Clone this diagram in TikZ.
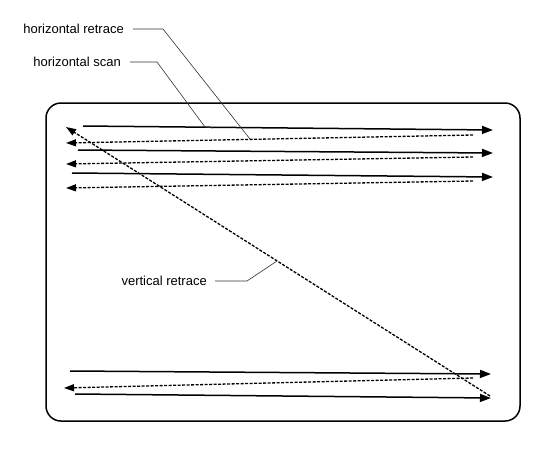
\documentclass[tikz,border=0pt]{standalone}
\usepackage{fontspec}
\setmainfont{Liberation Sans}
\usetikzlibrary{arrows.meta}
\begin{document}
\begin{tikzpicture}[x=1pt,y=-1pt,
  scanline/.style={line width=1.5pt,-{Triangle[length=11pt,width=8pt]}},
  retrace/.style={line width=1.3pt,dash pattern=on 3pt off 1.5pt,-{Triangle[length=10pt,width=7pt]}},
  leader/.style={line width=0.6pt,draw=black!80},
  lbl/.style={font=\fontsize{13}{15}\selectfont,inner sep=0pt,anchor=east}]
\useasboundingbox (0,0) rectangle (558,456);
\draw[line width=1.5pt,rounded corners=15pt] (46,103) rectangle (520,421);
% scan lines
\coordinate (s1a) at (83,126); \coordinate (s1b) at (493,130);
\coordinate (r1a) at (473,135); \coordinate (r1b) at (66,143);
\coordinate (s2a) at (78,150); \coordinate (s2b) at (493,153);
\coordinate (r2a) at (473,157); \coordinate (r2b) at (66,164);
\coordinate (s3a) at (72,173); \coordinate (s3b) at (493,177);
\coordinate (r3a) at (473,181); \coordinate (r3b) at (66,188);
\coordinate (s4a) at (70,371); \coordinate (s4b) at (491,374);
\coordinate (r4a) at (473,378); \coordinate (r4b) at (64,388);
\coordinate (s5a) at (75,394); \coordinate (s5b) at (491,398);
\coordinate (va) at (490,396); \coordinate (vb) at (66,127);
\draw[scanline] (s1a) -- (s1b);
\draw[retrace] (r1a) -- (r1b);
\draw[scanline] (s2a) -- (s2b);
\draw[retrace] (r2a) -- (r2b);
\draw[scanline] (s3a) -- (s3b);
\draw[retrace] (r3a) -- (r3b);
\draw[scanline] (s4a) -- (s4b);
\draw[retrace] (r4a) -- (r4b);
\draw[scanline] (s5a) -- (s5b);
\draw[retrace] (va) -- (vb);
% labels
\node[lbl] (hr) at (124,29) {horizontal retrace};
\node[lbl] (hs) at (121,62) {horizontal scan};
\node[lbl] (vr) at (207,281) {vertical retrace};
\coordinate (hrend) at (250,139);
\coordinate (hsend) at (213,128);
\coordinate (vrend) at (277,261);
\draw[leader] ([xshift=9pt]hr.east) -- ++(30,0) -- (hrend);
\draw[leader] ([xshift=9pt]hs.east) -- ++(27,0) -- (205,127) -- (hsend);
\draw[leader] ([xshift=8pt]vr.east) -- ++(32,0) -- (vrend);
\end{tikzpicture}
\end{document}
